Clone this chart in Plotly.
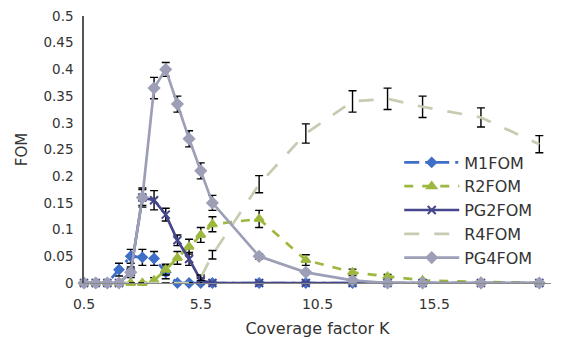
import plotly.graph_objects as go

# Coverage factor K (shared by all series)
K = [0.5, 1, 1.5, 2, 2.5, 3, 3.5, 4, 4.5, 5, 5.5, 6, 8, 10, 12, 13.5, 15, 17.5, 20]

# Figure of merit per configuration
m1_fom = [0, 0, 0, 0.025, 0.05, 0.048, 0.046, 0.02, 0, 0, 0, 0, 0, 0, 0, 0, 0, 0, 0]
r2_fom = [0, 0, 0, 0, 0, 0, 0.005, 0.025, 0.047, 0.068, 0.09, 0.11, 0.12, 0.043, 0.02, 0.012, 0.005, 0.002, 0]
pg2_fom = [0, 0, 0, 0, 0.02, 0.16, 0.155, 0.128, 0.08, 0.045, 0.005, 0, 0, 0, 0, 0, 0, 0, 0]
r4_fom = [0, 0, 0, 0, 0, 0, 0, 0, 0, 0, 0.01, 0.053, 0.185, 0.28, 0.34, 0.345, 0.33, 0.31, 0.26]
pg4_fom = [0, 0, 0, 0, 0.02, 0.16, 0.365, 0.40, 0.335, 0.27, 0.21, 0.15, 0.05, 0.02, 0.005, 0, 0, 0, 0]

# Error (± standard deviation)
m1_err = [0, 0, 0, 0.012, 0.013, 0.015, 0.013, 0.012, 0, 0, 0, 0, 0, 0, 0, 0, 0, 0, 0]
r2_err = [0, 0, 0, 0, 0, 0, 0.005, 0.01, 0.012, 0.014, 0.014, 0.014, 0.016, 0.01, 0.006, 0.004, 0, 0, 0]
pg2_err = [0, 0, 0, 0, 0.01, 0.018, 0.018, 0.012, 0.01, 0.012, 0.004, 0, 0, 0, 0, 0, 0, 0, 0]
r4_err = [0, 0, 0, 0, 0, 0, 0, 0, 0, 0, 0.005, 0.008, 0.016, 0.018, 0.02, 0.02, 0.02, 0.018, 0.016]
pg4_err = [0, 0, 0, 0, 0.005, 0.015, 0.02, 0.013, 0.015, 0.015, 0.015, 0.014, 0.005, 0.003, 0, 0, 0, 0, 0]

y_ticks = [0, 0.05, 0.1, 0.15, 0.2, 0.25, 0.3, 0.35, 0.4, 0.45, 0.5]
y_labels = ["0", "0.05", "0.1", "0.15", "0.2", "0.25", "0.3", "0.35", "0.4", "0.45", "0.5"]
x_ticks = [0.5, 5.5, 10.5, 15.5]
x_labels = ["0.5", "5.5", "10.5", "15.5"]

FONT = "DejaVu Sans, Arial, sans-serif"
TEXT = "#333333"


def err(arr):
    return dict(type="data", array=arr, visible=True, color="black", thickness=1.4, width=4)


series = [
    ("M1FOM", m1_fom, m1_err, "#3f6fc6", "longdashdot", "diamond", 7),
    ("R2FOM", r2_fom, r2_err, "#9db83e", "dash", "triangle-up", 8),
    ("PG2FOM", pg2_fom, pg2_err, "#45468c", "solid", "x-thin-open", 8),
    ("R4FOM", r4_fom, r4_err, "#c5ccb2", "longdash", None, 0),
    ("PG4FOM", pg4_fom, pg4_err, "#9d9fb6", "solid", "diamond", 8),
]

fig = go.Figure()
for name, vals, errs, color, dash, symbol, size in series:
    marker = dict(symbol=symbol, size=size, color=color,
                  line=dict(color=color, width=2)) if symbol else None
    fig.add_trace(go.Scatter(
        x=K, y=vals, name=name,
        mode="lines+markers" if symbol else "lines",
        line=dict(color=color, width=2.7, dash=dash),
        marker=marker,
        error_y=err(errs),
        cliponaxis=False,
    ))

fig.update_layout(
    width=571, height=339,
    margin=dict(l=84, r=20, t=16, b=56),
    paper_bgcolor="white", plot_bgcolor="white",
    font=dict(family=FONT, color=TEXT, size=13),
    showlegend=True,
    legend=dict(
        x=0.675, y=0.515, xanchor="left", yanchor="top",
        bgcolor="rgba(0,0,0,0)", font=dict(size=16, color=TEXT),
        itemwidth=55, tracegroupgap=0,
    ),
    xaxis=dict(
        range=[0.5, 20.5], tickvals=x_ticks, ticktext=x_labels,
        showgrid=False, zeroline=False, showline=True, linecolor="#8a8a8a", linewidth=1,
        ticks="", ticklabelstandoff=8, tickfont=dict(size=14), automargin=False,
        title=dict(text="Coverage factor K", font=dict(size=16), standoff=12),
    ),
    yaxis=dict(
        range=[0, 0.5], tickvals=y_ticks, ticktext=y_labels,
        showgrid=False, zeroline=False, showline=True, linecolor="#555555", linewidth=1.5,
        ticks="", ticklabelstandoff=6, tickfont=dict(size=13.5), automargin=False,
        title=dict(text="FOM", font=dict(size=15), standoff=12),
    ),
)

fig.write_html("out.html")
